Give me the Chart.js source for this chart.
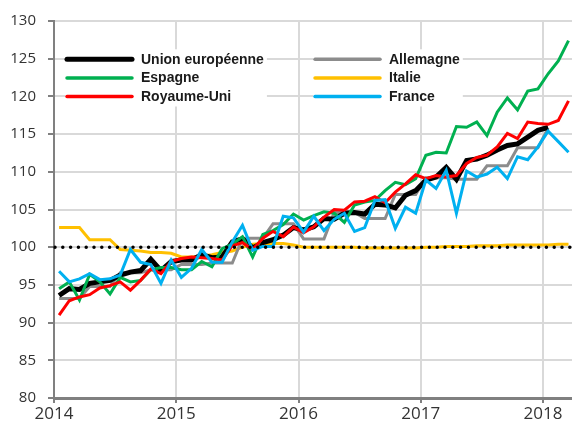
<!DOCTYPE html>
<html><head><meta charset="utf-8">
<script src="https://cdn.jsdelivr.net/npm/chart.js@4/dist/chart.umd.min.js"></script>
<style>html,body{margin:0;padding:0;background:#fff;}canvas{display:block;}</style>
</head><body>
<canvas id="c" width="572" height="428"></canvas>
<script>
// ---- data ----
const months = [
 '2014-01','2014-02','2014-03','2014-04','2014-05','2014-06','2014-07','2014-08','2014-09','2014-10','2014-11','2014-12',
 '2015-01','2015-02','2015-03','2015-04','2015-05','2015-06','2015-07','2015-08','2015-09','2015-10','2015-11','2015-12',
 '2016-01','2016-02','2016-03','2016-04','2016-05','2016-06','2016-07','2016-08','2016-09','2016-10','2016-11','2016-12',
 '2017-01','2017-02','2017-03','2017-04','2017-05','2017-06','2017-07','2017-08','2017-09','2017-10','2017-11','2017-12',
 '2018-01','2018-02','2018-03'];
const seriesNames = ['Union européenne','Allemagne','Espagne','Italie','Royaume-Uni','France'];
const unionEuropeenne = [93.6,94.5,94.4,95.2,95.4,95.6,96.3,96.7,96.9,98.4,96.9,98.1,
 98.3,98.3,99.0,98.6,98.7,100.7,101.1,99.9,100.6,101.0,101.6,102.6,
 102.3,102.7,103.8,103.7,104.5,104.6,104.4,105.7,105.6,105.2,106.9,107.5,
 108.9,109.3,110.6,109.0,111.5,111.7,112.2,112.9,113.5,113.7,114.6,115.5,
 115.9];
const allemagne = [93.2,93.2,93.2,94.8,94.8,94.8,96.6,96.6,96.6,97.0,97.0,97.0,
 97.7,97.7,97.7,97.9,97.9,97.9,101.2,101.2,101.2,103.1,103.1,103.1,
 101.1,101.1,101.1,104.6,104.6,104.6,103.8,103.8,103.8,107.0,107.0,107.0,
 109.2,109.2,109.2,109.0,109.0,109.0,110.8,110.8,110.8,113.2,113.2,113.2,
 115.8];
const espagne = [94.5,95.4,93.0,96.4,95.4,93.8,96.0,95.4,95.6,97.0,97.3,97.3,
 97.0,97.0,98.1,97.4,99.8,100.4,101.4,98.7,101.7,102.2,103.0,104.4,
 103.6,104.2,104.7,104.5,103.3,105.6,106.0,106.2,107.5,108.6,108.3,109.1,
 112.2,112.6,112.5,116.0,115.9,116.6,114.8,117.9,119.8,118.2,120.7,121.0,
 123.0,124.7,127.4];
const italie = [102.6,102.6,102.6,101.0,101.0,101.0,99.7,99.6,99.5,99.3,99.3,99.2,
 98.7,98.7,98.8,99.0,99.3,99.5,100.0,100.4,100.5,100.5,100.5,100.3,
 100.0,100.0,100.0,100.0,100.0,100.0,99.9,99.9,99.9,99.9,99.9,99.9,
 100.0,100.0,100.1,100.1,100.1,100.2,100.2,100.2,100.3,100.3,100.3,100.3,
 100.3,100.4,100.4];
const royaumeUni = [91.0,92.9,93.4,93.7,94.6,94.9,95.4,94.3,95.6,97.1,96.5,98.1,
 98.5,98.7,98.6,98.5,98.3,100.2,100.6,99.7,101.2,102.1,101.4,102.7,
 101.9,102.7,104.0,105.0,104.9,106.0,106.1,106.7,105.9,107.3,108.4,109.6,
 109.1,109.5,109.3,109.5,111.1,111.9,112.2,113.3,115.1,114.4,116.6,116.4,
 116.3,116.8,119.4];
const france = [96.8,95.4,95.8,96.5,95.7,95.8,96.3,99.7,98.0,97.7,95.2,98.3,
 96.0,97.2,99.7,98.0,98.0,100.7,102.9,99.6,100.1,100.1,104.1,103.9,
 102.0,104.1,102.2,103.7,104.5,102.1,102.6,106.2,106.3,102.5,105.3,104.5,
 108.9,107.8,110.2,104.5,110.1,109.3,109.7,110.6,109.1,112.0,111.6,113.3,
 115.4,114.0,112.6];
const xTickYears = [2014,2015,2016,2017,2018];
const yTickValues = [80,85,90,95,100,105,110,115,120,125,130];
const referenceLevel = 100;

// ---- helpers ----
function monthToX(s){ const [y,m]=s.split('-').map(Number); return y+(m-0.5)/12; }
function pts(values){ return values.map((v,i)=>({x:monthToX(months[i]), y:v})); }

const styles = [
 {color:'#000000', width:5, order:4},
 {color:'#8c8c8c', width:3, order:5},
 {color:'#00b050', width:3, order:3},
 {color:'#ffc000', width:3, order:6},
 {color:'#ff0000', width:3, order:2},
 {color:'#00b0f0', width:3, order:1}
];
const seriesValues = [unionEuropeenne, allemagne, espagne, italie, royaumeUni, france];

const datasets = seriesNames.map((name,i)=>({
  label:name, data:pts(seriesValues[i]),
  borderColor:styles[i].color, backgroundColor:styles[i].color,
  borderWidth:styles[i].width, order:styles[i].order,
  pointRadius:0, tension:0, fill:false, borderJoinStyle:'miter'
}));

const refLinePlugin = {
  id:'refLine',
  afterDatasetsDraw(chart){
    const {ctx, chartArea:a, scales:{y}} = chart;
    const py = y.getPixelForValue(referenceLevel);
    ctx.save();
    ctx.strokeStyle='#000'; ctx.lineWidth=3.5; ctx.lineCap='round';
    ctx.setLineDash([0,7.8]);
    ctx.beginPath(); ctx.moveTo(a.left+1,py); ctx.lineTo(a.right,py); ctx.stroke();
    ctx.restore();
  }
};

const legendPlugin = {
  id:'gridLegend',
  afterDraw(chart){
    const ctx = chart.ctx;
    const colX = [65, 313], rowY = [59.3, 78, 96.5], lineLen = 69, gap = 7;
    ctx.save();
    ctx.font = 'bold 14px "Liberation Sans", Arial, sans-serif';
    // white backgrounds per column
    for (let c=0;c<2;c++){
      let maxW = 0;
      for (let r=0;r<3;r++){ const idx=r*2+c; maxW=Math.max(maxW, ctx.measureText(seriesNames[idx]).width); }
      ctx.fillStyle='#fff';
      ctx.fillRect(colX[c], rowY[0]-10, lineLen+gap+maxW+3, rowY[2]-rowY[0]+20);
    }
    for (let i=0;i<seriesNames.length;i++){
      const c=i%2, r=Math.floor(i/2);
      const x=colX[c], y=rowY[r];
      ctx.strokeStyle=styles[i].color; ctx.lineWidth=styles[i]===styles[0]?5:3.5; ctx.lineCap='round';
      ctx.beginPath(); ctx.moveTo(x+2,y); ctx.lineTo(x+lineLen-2,y); ctx.stroke();
      ctx.fillStyle='#1a1a1a'; ctx.textBaseline='middle'; ctx.textAlign='left';
      ctx.fillText(seriesNames[i], x+lineLen+gap, y+0.5);
    }
    ctx.restore();
  }
};

new Chart(document.getElementById('c'), {
  type:'line',
  data:{datasets},
  plugins:[refLinePlugin, legendPlugin],
  options:{
    responsive:false, animation:false, devicePixelRatio:1,
    layout:{padding:{top:21,right:0,bottom:0,left:0}},
    plugins:{legend:{display:false}, tooltip:{enabled:false}},
    scales:{
      x:{type:'linear', min:xTickYears[0], max:2018.237,
        afterFit(s){ s.height=30; },
        afterBuildTicks(s){ s.ticks = xTickYears.map(v=>({value:v})); },
        ticks:{includeBounds:false, stepSize:1, padding:1, color:'#333', font:{family:'"Open Sans"', size:17},
          maxRotation:0, autoSkip:false, callback:(v)=>String(v)},
        grid:{color:'#d9d9d9', lineWidth:2, tickColor:'#808080', tickLength:5, tickWidth:2},
        border:{color:'#808080', width:3}
      },
      y:{min:80, max:130,
        afterFit(s){ s.width=54; },
        afterBuildTicks(s){ s.ticks = yTickValues.map(v=>({value:v})); },
        ticks:{stepSize:5, padding:12, color:'#333', font:{family:'"Open Sans"', size:15}, callback:(v)=>String(v)},
        grid:{color:'#d9d9d9', lineWidth:2, tickColor:'#808080', tickLength:6, tickWidth:2},
        border:{color:'#808080', width:2}
      }
    }
  }
});
</script>
</body></html>
